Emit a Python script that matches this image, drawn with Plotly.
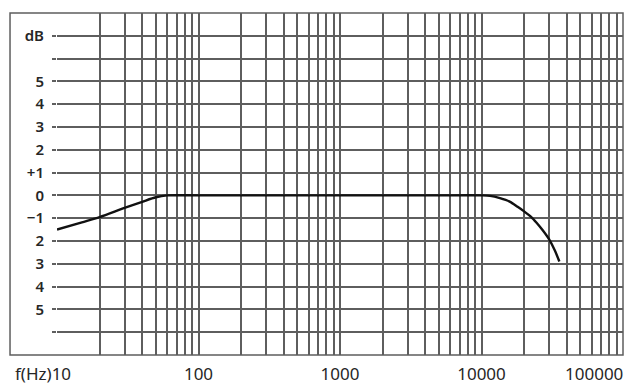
import plotly.graph_objects as go

# Frequency response data
freq_hz = [10, 15, 20, 30, 40, 50, 60, 100, 1000, 5000, 10000, 11500, 13500,
           15800, 18000, 20000, 22500, 24500, 27000, 30000, 33000, 35500]
level_db = [-1.5, -1.18, -0.95, -0.55, -0.28, -0.08, 0, 0, 0, 0, 0, -0.02, -0.12,
            -0.27, -0.5, -0.7, -0.95, -1.2, -1.52, -1.92, -2.42, -2.9]

# Axis ticks
y_tick_vals = [-6, -5, -4, -3, -2, -1, 0, 1, 2, 3, 4, 5, 6, 7]
y_tick_text = ["", "5", "4", "3", "2", "\u22121", "0", "+1", "2", "3", "4", "5", "", "dB"]
x_major_labels = {100: "100", 1000: "1000", 10000: "10000"}

x_grid = []
for k in range(1, 5):
    for d in range(1, 10):
        x_grid.append(d * 10 ** k)
x_grid.append(100000)
x_text = [x_major_labels.get(v, "") for v in x_grid]

GRID = "#5e5e5e"
TXT = "#262626"
FONT = "Noto Sans"

fig = go.Figure()
fig.add_trace(go.Scatter(
    x=freq_hz, y=level_db, mode="lines",
    line=dict(color="#111111", width=2.4, shape="spline", smoothing=0.8),
    hoverinfo="skip", showlegend=False,
))

fig.update_layout(
    width=634, height=387,
    margin=dict(l=57, r=11, t=13, b=32, autoexpand=False),
    paper_bgcolor="white", plot_bgcolor="white",
    font=dict(family=FONT, color=TXT),
    xaxis=dict(
        type="log", range=[1, 5], automargin=False,
        tickmode="array", tickvals=x_grid, ticktext=x_text,
        showgrid=True, gridcolor=GRID, gridwidth=1.5,
        zeroline=False, showline=False, ticks="",
        tickfont=dict(size=17, color=TXT),
        ticklabelstandoff=7,
    ),
    yaxis=dict(
        range=[-7, 8], automargin=False,
        tickmode="array", tickvals=y_tick_vals, ticktext=y_tick_text,
        showgrid=True, gridcolor=GRID, gridwidth=1.5,
        zeroline=False, showline=False,
        ticks="outside", ticklen=4, tickcolor=GRID, tickwidth=1.5,
        tickfont=dict(size=15, color=TXT, weight=600),
        ticklabelstandoff=5,
    ),
    shapes=[dict(
        type="rect", xref="paper", yref="paper",
        x0=-0.083, x1=1.0, y0=0, y1=1,
        line=dict(color=GRID, width=1.5), fillcolor="rgba(0,0,0,0)",
    )],
    annotations=[
        dict(text="f(Hz)10", x=1, xref="x", y=0, yref="paper",
             xanchor="right", yanchor="top", xshift=16, yshift=-5,
             showarrow=False, font=dict(size=17, color=TXT, family=FONT)),
        dict(text="100000", x=5, xref="x", y=0, yref="paper",
             xanchor="right", yanchor="top", xshift=2, yshift=-5,
             showarrow=False, font=dict(size=17, color=TXT, family=FONT)),
    ],
)

fig.write_html("out.html")
